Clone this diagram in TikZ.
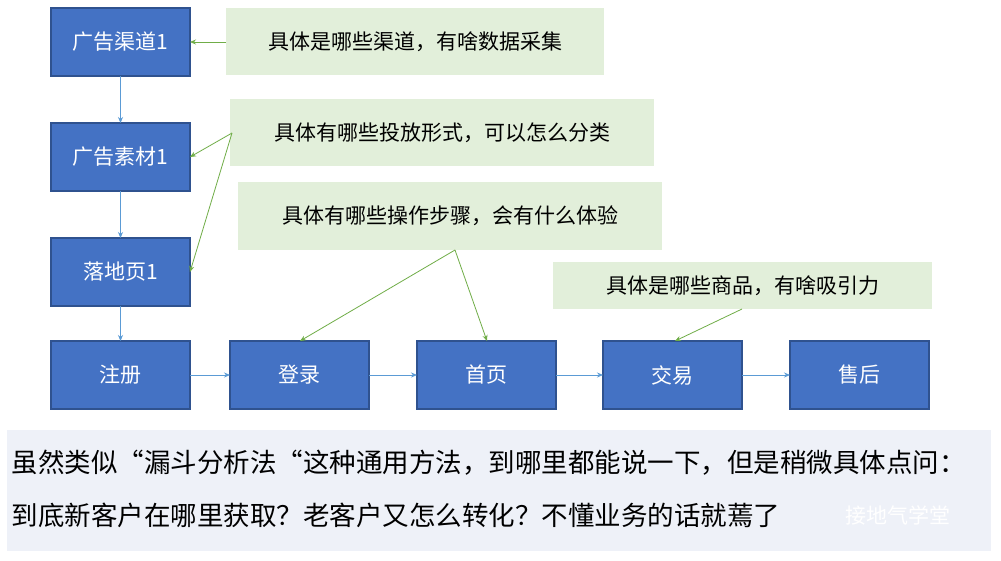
\documentclass[tikz,border=0pt]{standalone}
\usepackage{fontspec}
\setmainfont{Noto Sans CJK SC}
\usetikzlibrary{arrows.meta}
\definecolor{bfill}{HTML}{4472C4}
\definecolor{bdraw}{HTML}{2F528F}
\definecolor{gfill}{HTML}{E2EFDA}
\definecolor{garr}{HTML}{70AD47}
\definecolor{barr}{HTML}{5B9BD5}
\definecolor{note}{HTML}{EEF1F8}
\begin{document}
\begin{tikzpicture}[x=1pt,y=-1pt,
 bbox/.style={draw=bdraw,line width=1.2pt,fill=bfill,text=white,font=\fontsize{21}{24}\selectfont},
 gbox/.style={fill=gfill,font=\fontsize{21}{24}\selectfont},
 barrow/.style={draw=barr,line width=0.8pt,-{Stealth[length=6pt,width=5pt]}},
 garrow/.style={draw=garr,line width=0.8pt,-{Stealth[length=6pt,width=5pt]}}]
\useasboundingbox (0,0) rectangle (1001,560);
\fill[white] (0,0) rectangle (1001,560);
\def\bx#1#2#3#4#5#6{\path[bbox] (#2,#3) rectangle (#4,#5) node[pos=.5] (#1) {#6};
 \coordinate (#1t) at ({(#2+#4)/2},#3); \coordinate (#1b) at ({(#2+#4)/2},#5);
 \coordinate (#1l) at (#2,{(#3+#5)/2}); \coordinate (#1r) at (#4,{(#3+#5)/2});}
\bx{a}{51}{8}{190}{76}{广告渠道1}
\bx{b}{51}{123}{190}{191}{广告素材1}
\bx{c}{51}{238}{190}{306}{落地页1}
\bx{d}{51}{341}{190}{409}{注册}
\bx{e}{230}{341}{369}{409}{登录}
\bx{f}{417}{341}{556}{409}{首页}
\bx{g}{603}{341}{742}{409}{交易}
\bx{h}{790}{341}{929}{409}{售后}
\path[gbox] (226,8) rectangle (604,75) node[pos=.5] (g1) {具体是哪些渠道，有啥数据采集};
\path[gbox] (230,99) rectangle (654,166) node[pos=.5] (g2) {具体有哪些投放形式，可以怎么分类};
\path[gbox] (238,182) rectangle (662,250) node[pos=.5] (g3) {具体有哪些操作步骤，会有什么体验};
\path[gbox] (553,262) rectangle (932,309) node[pos=.5] (g4) {具体是哪些商品，有啥吸引力};
\coordinate (p1) at (226,42);
\coordinate (p2) at (232,133);
\coordinate (p3) at (455,250);
\coordinate (p4) at (742,309);
\draw[barrow] (ab) -- (at|-bt);
\draw[barrow] (bb) -- (bt|-ct);
\draw[barrow] (cb) -- (cb|-dt);
\draw[barrow] (dr) -- (el);
\draw[barrow] (er) -- (fl);
\draw[barrow] (fr) -- (gl);
\draw[barrow] (gr) -- (hl);
\draw[garrow] (p1) -- (ar);
\draw[garrow] (p2) -- (br);
\draw[garrow] (p2) -- (cr);
\draw[garrow] (p3) -- (300,341);
\draw[garrow] (p3) -- (487,341);
\draw[garrow] (p4) -- (675,341);
\fill[note] (7,430) rectangle (991,551);
\node[anchor=west,font=\fontsize{26.5}{30}\selectfont] (t1) at (8,463) {虽然类似“漏斗分析法“这种通用方法，到哪里都能说一下，但是稍微具体点问：};
\node[anchor=west,font=\fontsize{26.5}{30}\selectfont] (t2) at (8,515) {到底新客户在哪里获取？老客户又怎么转化？不懂业务的话就蔫了};
\node[anchor=west,text=white,font=\fontsize{21}{24}\selectfont] (wm) at (842,515) {接地气学堂};
\end{tikzpicture}
\end{document}
